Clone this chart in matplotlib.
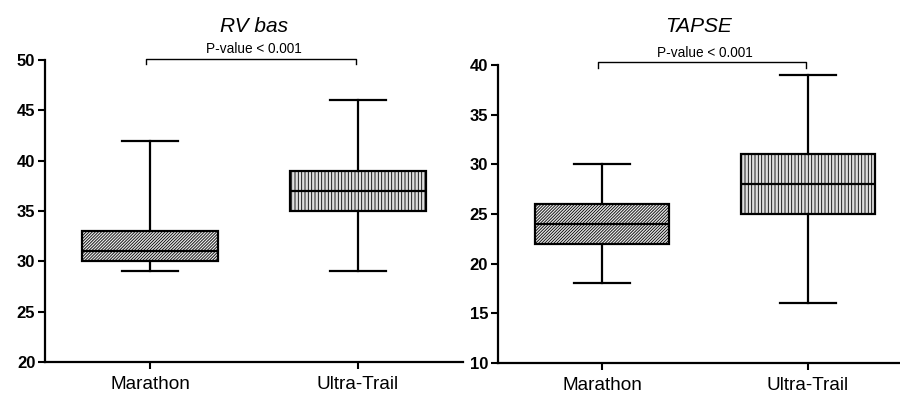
import matplotlib
matplotlib.use("Agg")
import matplotlib.pyplot as plt

plt.rcParams['font.family'] = ['Liberation Sans', 'DejaVu Sans']
plt.rcParams['hatch.linewidth'] = 0.6

# Data
groups = ["Marathon", "Ultra-Trail"]

rv_low = [29, 29]
rv_q1 = [30, 35]
rv_med = [31, 37]
rv_q3 = [33, 39]
rv_high = [42, 46]

tapse_low = [18, 16]
tapse_q1 = [22, 25]
tapse_med = [24, 28]
tapse_q3 = [26, 31]
tapse_high = [30, 39]

titles = ["RV bas", "TAPSE"]
p_text = "P-value < 0.001"
hatches = ["/" * 11, "|||||"]
faces = ["#e8e8e8", "#dedede"]


def make_stats(low, q1, med, q3, high):
    out = []
    for i in range(len(groups)):
        out.append(dict(label=groups[i], whislo=low[i], q1=q1[i], med=med[i],
                        q3=q3[i], whishi=high[i], fliers=[]))
    return out


def draw_panel(ax, stats, title, ylim, yticks, xmax, br_y, br_drop, txt_y, pad):
    lw = 1.6
    res = ax.bxp(stats, positions=[1, 2], widths=0.65, patch_artist=True,
                 showfliers=False, capwidths=0.27,
                 boxprops=dict(linewidth=lw, edgecolor='black'),
                 medianprops=dict(color='black', linewidth=lw),
                 whiskerprops=dict(color='black', linewidth=lw),
                 capprops=dict(color='black', linewidth=lw))
    for box, h, fc in zip(res['boxes'], hatches, faces):
        box.set_facecolor(fc)
        box.set_hatch(h)

    ax.set_xlim(0.495, xmax)
    ax.set_ylim(*ylim)
    ax.set_yticks(yticks)
    ax.set_xticks([1, 2])
    ax.set_xticklabels(groups, fontsize=13.7)
    for lab in ax.get_yticklabels():
        lab.set_fontweight('bold')
        lab.set_fontsize(12)
    ax.spines['top'].set_visible(False)
    ax.spines['right'].set_visible(False)
    ax.spines['left'].set_linewidth(1.6)
    ax.spines['bottom'].set_linewidth(1.6)
    ax.tick_params(axis='both', direction='out', width=1.5, length=5)
    ax.tick_params(axis='y', pad=2)
    ax.tick_params(axis='x', pad=5)

    # significance bracket
    ax.plot([0.98, 0.98, 1.99, 1.99], [br_y - br_drop, br_y, br_y, br_y - br_drop],
            color='black', linewidth=1.0, clip_on=False)
    ax.text(1.5, txt_y, p_text, ha='center', va='center', fontsize=9.8)
    ax.set_title(title, fontstyle='italic', fontsize=15, pad=pad)


fig = plt.figure(figsize=(9, 3.98), dpi=100)
ax1 = fig.add_axes([0.05, 0.0905, 0.4644, 0.7585])
ax2 = fig.add_axes([0.5533, 0.088, 0.4467, 0.749])

draw_panel(ax1, make_stats(rv_low, rv_q1, rv_med, rv_q3, rv_high), titles[0],
           (20, 50), [20, 25, 30, 35, 40, 45, 50], 2.505, 50.1, 0.5, 51.1, 20)
draw_panel(ax2, make_stats(tapse_low, tapse_q1, tapse_med, tapse_q3, tapse_high),
           titles[1], (10, 40), [10, 15, 20, 25, 30, 35, 40], 2.447, 40.3, 0.6, 41.2, 23.5)

fig.savefig("out.png", dpi=100)
